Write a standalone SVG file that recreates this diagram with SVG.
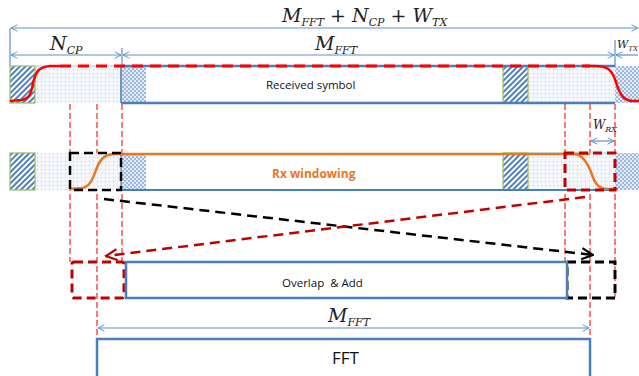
<svg xmlns="http://www.w3.org/2000/svg" width="639" height="376" viewBox="0 0 639 376">
<defs>
<pattern id="hatch" width="4" height="4" patternUnits="userSpaceOnUse" patternTransform="rotate(45)">
<rect width="4" height="4" fill="#ffffff"/>
<rect width="2" height="4" fill="#4f81bd"/>
</pattern>
<pattern id="dots" width="4" height="4" patternUnits="userSpaceOnUse">
<rect width="4" height="4" fill="#f3f6fb"/>
<rect x="1" y="1" width="1" height="1" fill="#b8cbe6"/>
</pattern>
<pattern id="check" width="4" height="4" patternUnits="userSpaceOnUse">
<rect width="4" height="4" fill="#e4ecf7"/>
<rect width="2" height="2" fill="#9db8de"/>
<rect x="2" y="2" width="2" height="2" fill="#9db8de"/>
</pattern>
<marker id="open" viewBox="0 0 10 10" refX="9" refY="5" markerWidth="8" markerHeight="8" markerUnits="userSpaceOnUse" orient="auto-start-reverse">
<path d="M1,1 L9,5 L1,9" fill="none" stroke="#5b8fd0" stroke-width="1.2"/>
</marker>
<marker id="blackhead" viewBox="0 0 10 10" refX="9" refY="5" markerWidth="14" markerHeight="14" markerUnits="userSpaceOnUse" orient="auto">
<path d="M1,1 L9,5 L1,9" fill="none" stroke="#000" stroke-width="1.6"/>
</marker>
<marker id="redhead" viewBox="0 0 10 10" refX="9" refY="5" markerWidth="14" markerHeight="14" markerUnits="userSpaceOnUse" orient="auto">
<path d="M1,1 L9,5 L1,9" fill="none" stroke="#c00000" stroke-width="1.6"/>
</marker>
</defs>
<style>
.dim{stroke:#5b8fd0;stroke-width:1.2;fill:none}
.tick{stroke:#5b8fd0;stroke-width:1.2}
.math{font-family:"DejaVu Serif","Liberation Serif",serif;font-style:italic;fill:#222}
.sub{font-size:11px}
.hat{fill:url(#hatch);stroke:#9bbb59;stroke-width:1.2}
.dot{fill:url(#dots);stroke:none}
.chk{fill:url(#check);stroke:none}
.redv{stroke:#ff2020;stroke-width:1.2;stroke-dasharray:6,3;fill:none}
.blue{stroke:#4a7ebb;fill:none;stroke-width:2.5}
.lbl{font-family:"Open Sans","Liberation Sans",sans-serif;font-size:11.5px;fill:#111;white-space:pre}
</style>
<rect width="639" height="376" fill="#fff"/>

<g id="dims">
<line class="tick" x1="10" y1="28" x2="10" y2="66"/>
<line class="tick" x1="122" y1="48" x2="122" y2="66"/>
<line class="tick" x1="615" y1="40" x2="615" y2="66"/>
<line class="dim" x1="11" y1="28" x2="638" y2="28" marker-start="url(#open)" marker-end="url(#open)"/>
<text class="math" x="282" y="22" font-size="19">M<tspan class="sub" dy="4">FFT</tspan><tspan dy="-4"> + N</tspan><tspan class="sub" dy="4">CP</tspan><tspan dy="-4"> + W</tspan><tspan class="sub" dy="4">TX</tspan></text>
<line class="dim" x1="11" y1="55" x2="121" y2="55" marker-start="url(#open)" marker-end="url(#open)"/>
<text class="math" x="50" y="50" font-size="19">N<tspan class="sub" dy="4">CP</tspan></text>
<line class="dim" x1="123" y1="55" x2="614" y2="55" marker-start="url(#open)" marker-end="url(#open)"/>
<text class="math" x="315" y="50" font-size="19">M<tspan class="sub" dy="4">FFT</tspan></text>
<line class="dim" x1="616" y1="55" x2="638" y2="55" marker-start="url(#open)"/>
<text class="math" x="617" y="48" font-size="11">W<tspan font-size="7" dy="3">TX</tspan></text>
</g>

<g id="received-symbol">
<rect class="dot" x="35" y="66" width="86" height="37"/>
<rect class="chk" x="121" y="66" width="25" height="37"/>
<rect class="dot" x="528" y="66" width="87" height="37"/>
<rect class="chk" x="615" y="66" width="24" height="37" stroke="#9bbb59" stroke-width="1.2"/>
<rect class="hat" x="10" y="66" width="25" height="37"/>
<rect class="hat" x="503" y="66" width="25" height="37"/>
<line x1="35" y1="66" x2="121" y2="66" stroke="#9fd3e0" stroke-width="1"/>
<line x1="121" y1="66" x2="615" y2="66" class="blue"/>
<line x1="121" y1="103" x2="615" y2="103" class="blue"/>
<line x1="121" y1="66" x2="121" y2="103" stroke="#4a7ebb" stroke-width="1.5"/>
<path d="M10,101 L22,100 C28,99 30,96 32,88 C35,72 38,67 50,66 L60,66" fill="none" stroke="#ff0000" stroke-width="2.5"/>
<line x1="60" y1="66" x2="590" y2="66" stroke="#ff0000" stroke-width="3" stroke-dasharray="11,7"/>
<path d="M585,66 L595,66 C608,66 612,70 616,82 C620,96 624,100 632,101 L639,101" fill="none" stroke="#ff0000" stroke-width="2.5"/>
<text class="lbl" x="266" y="89">Received symbol</text>
</g>

<g id="guides">
<line class="redv" x1="70" y1="104" x2="70" y2="262"/>
<line class="redv" x1="97" y1="104" x2="97" y2="376"/>
<line class="redv" x1="122" y1="104" x2="122" y2="262"/>
<line class="redv" x1="565" y1="104" x2="565" y2="262"/>
<line class="redv" x1="590" y1="104" x2="590" y2="376"/>
<line class="redv" x1="615" y1="104" x2="615" y2="297"/>
</g>

<g id="rx-windowing">
<rect class="dot" x="35" y="153" width="86" height="37"/>
<rect class="chk" x="121" y="153" width="25" height="37"/>
<rect class="dot" x="528" y="153" width="87" height="37"/>
<rect class="chk" x="615" y="153" width="24" height="37" stroke="#9bbb59" stroke-width="1.2"/>
<rect class="hat" x="10" y="153" width="25" height="37"/>
<rect class="hat" x="503" y="153" width="25" height="37"/>
<line x1="528" y1="153" x2="615" y2="153" stroke="#9fd3e0" stroke-width="1"/>
<line x1="121" y1="154" x2="590" y2="154" stroke="#e87722" stroke-width="2.5"/>
<line x1="121" y1="190" x2="612" y2="190" stroke="#4a7ebb" stroke-width="2"/>
<line x1="121" y1="154" x2="121" y2="190" stroke="#4a7ebb" stroke-width="1.2"/>
<path d="M70,189 L82,188 C90,187 93,178 96,170 C100,159 104,155 114,154 L122,154" fill="none" stroke="#e87722" stroke-width="2.5"/>
<path d="M565,154 L575,154 C582,155 587,162 591,172 C595,184 598,188 606,189 L618,189" fill="none" stroke="#e87722" stroke-width="2.5"/>
<rect x="70" y="153" width="51" height="37" fill="none" stroke="#000" stroke-width="2.5" stroke-dasharray="9,5"/>
<rect x="565" y="153" width="50" height="37" fill="none" stroke="#c00000" stroke-width="3" stroke-dasharray="9,5"/>
<text x="272" y="178" font-family="Open Sans,Liberation Sans,sans-serif" font-size="12" font-weight="bold" fill="#e87722">Rx windowing</text>
<line class="dim" x1="591" y1="141" x2="614" y2="141" marker-start="url(#open)" marker-end="url(#open)"/>
<text class="math" x="593" y="129" font-size="12">W<tspan font-size="8" dy="3">RX</tspan></text>
</g>

<g id="connectors">
<line x1="104" y1="199" x2="593" y2="255" stroke="#000" stroke-width="2.5" stroke-dasharray="10,6" marker-end="url(#blackhead)"/>
<line x1="585" y1="197" x2="106" y2="256" stroke="#c00000" stroke-width="2.5" stroke-dasharray="10,6" marker-end="url(#redhead)"/>
</g>

<g id="overlap-add">
<rect x="72" y="262" width="52" height="36" rx="2" fill="none" stroke="#c00000" stroke-width="3" stroke-dasharray="9,5"/>
<rect x="567" y="262" width="48" height="36" fill="none" stroke="#000" stroke-width="3" stroke-dasharray="9,5"/>
<rect x="126" y="262" width="441" height="36" fill="#fff" stroke="#4a7ebb" stroke-width="2.5"/>
<text class="lbl" x="282" y="287" xml:space="preserve">Overlap  &amp; Add</text>
</g>

<g id="fft">
<line class="dim" x1="98" y1="328" x2="589" y2="328" marker-start="url(#open)" marker-end="url(#open)"/>
<text class="math" x="328" y="322" font-size="19">M<tspan class="sub" dy="4">FFT</tspan></text>
<rect x="97" y="339" width="493" height="40" fill="#fff" stroke="#4a7ebb" stroke-width="2.5"/>
<text x="332" y="364" font-family="Open Sans,Liberation Sans,sans-serif" font-size="17" fill="#111">FFT</text>
</g>
</svg>
